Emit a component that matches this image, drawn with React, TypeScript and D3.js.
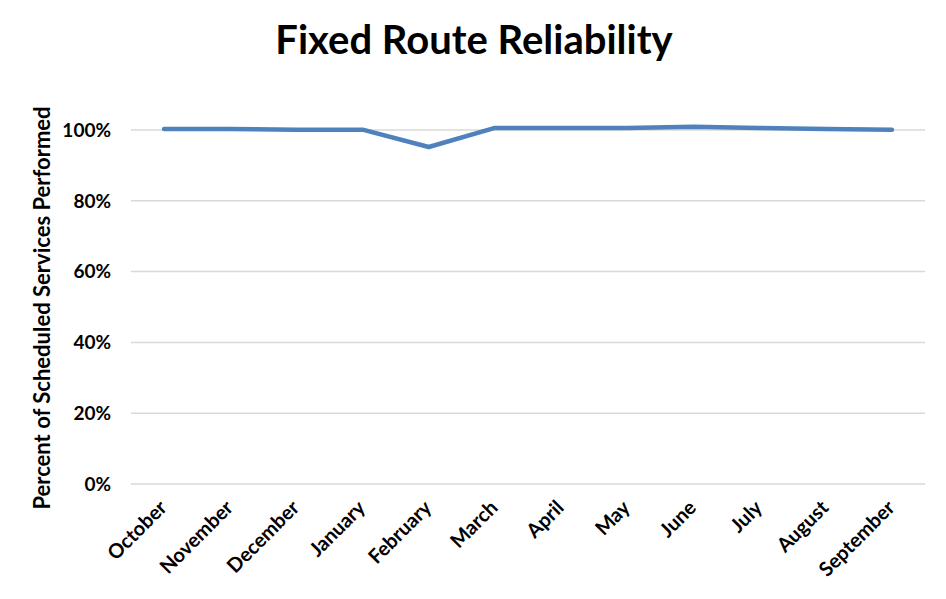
import { useMemo } from "react";
import * as d3 from "d3";

const months = [
  "October", "November", "December", "January", "February", "March",
  "April", "May", "June", "July", "August", "September",
];
const reliability = [100.3, 100.3, 100.1, 100.1, 95.2, 100.6, 100.6, 100.6, 100.9, 100.6, 100.3, 100.05];
const yTicks = [0, 20, 40, 60, 80, 100];

const W = 946;
const H = 599;
const FONT = "Lato, Carlito, 'Open Sans', sans-serif";

export default function App() {
  const left = 131;
  const right = 925;

  const x = useMemo(() => d3.scaleBand<string>().domain(months).range([left, right]), []);
  const y = useMemo(() => d3.scaleLinear().domain([0, 100]).range([484, 130]), []);

  const linePath = useMemo(() => {
    const gen = d3
      .line<number>()
      .x((_, i) => (x(months[i]) ?? 0) + x.bandwidth() / 2)
      .y((d) => y(d));
    return gen(reliability) ?? "";
  }, [x, y]);

  return (
    <svg
      width={W}
      height={H}
      style={{ position: "absolute", left: 0, top: 0, background: "#fff", fontFamily: FONT }}
    >
      <text x={474} y={54} textAnchor="middle" fontSize={40} fontWeight={700} fill="#000">
        Fixed Route Reliability
      </text>

      {/* gridlines */}
      {yTicks.map((t) => (
        <line key={t} x1={left} x2={right} y1={y(t)} y2={y(t)} stroke="#d9d9d9" strokeWidth={1.5} />
      ))}

      {/* y tick labels */}
      {yTicks.map((t) => (
        <text
          key={`l${t}`}
          x={111}
          y={y(t)}
          dy="0.36em"
          textAnchor="end"
          fontSize={19}
          fontWeight={700}
          fill="#000"
        >
          {t}%
        </text>
      ))}

      <text
        transform="translate(50, 308) rotate(-90)"
        textAnchor="middle"
        fontSize={22}
        fontWeight={700}
        fill="#000"
      >
        Percent of Scheduled Services Performed
      </text>

      {/* x labels */}
      {months.map((m) => {
        const cx = (x(m) ?? 0) + x.bandwidth() / 2 + 4;
        return (
          <text
            key={m}
            transform={`translate(${cx}, 509) rotate(-45)`}
            textAnchor="end"
            fontSize={20}
            fontWeight={700}
            fill="#000"
          >
            {m}
          </text>
        );
      })}

      <path
        d={linePath}
        fill="none"
        stroke="#4f81bd"
        strokeWidth={4.5}
        strokeLinecap="round"
        strokeLinejoin="round"
      />
    </svg>
  );
}
